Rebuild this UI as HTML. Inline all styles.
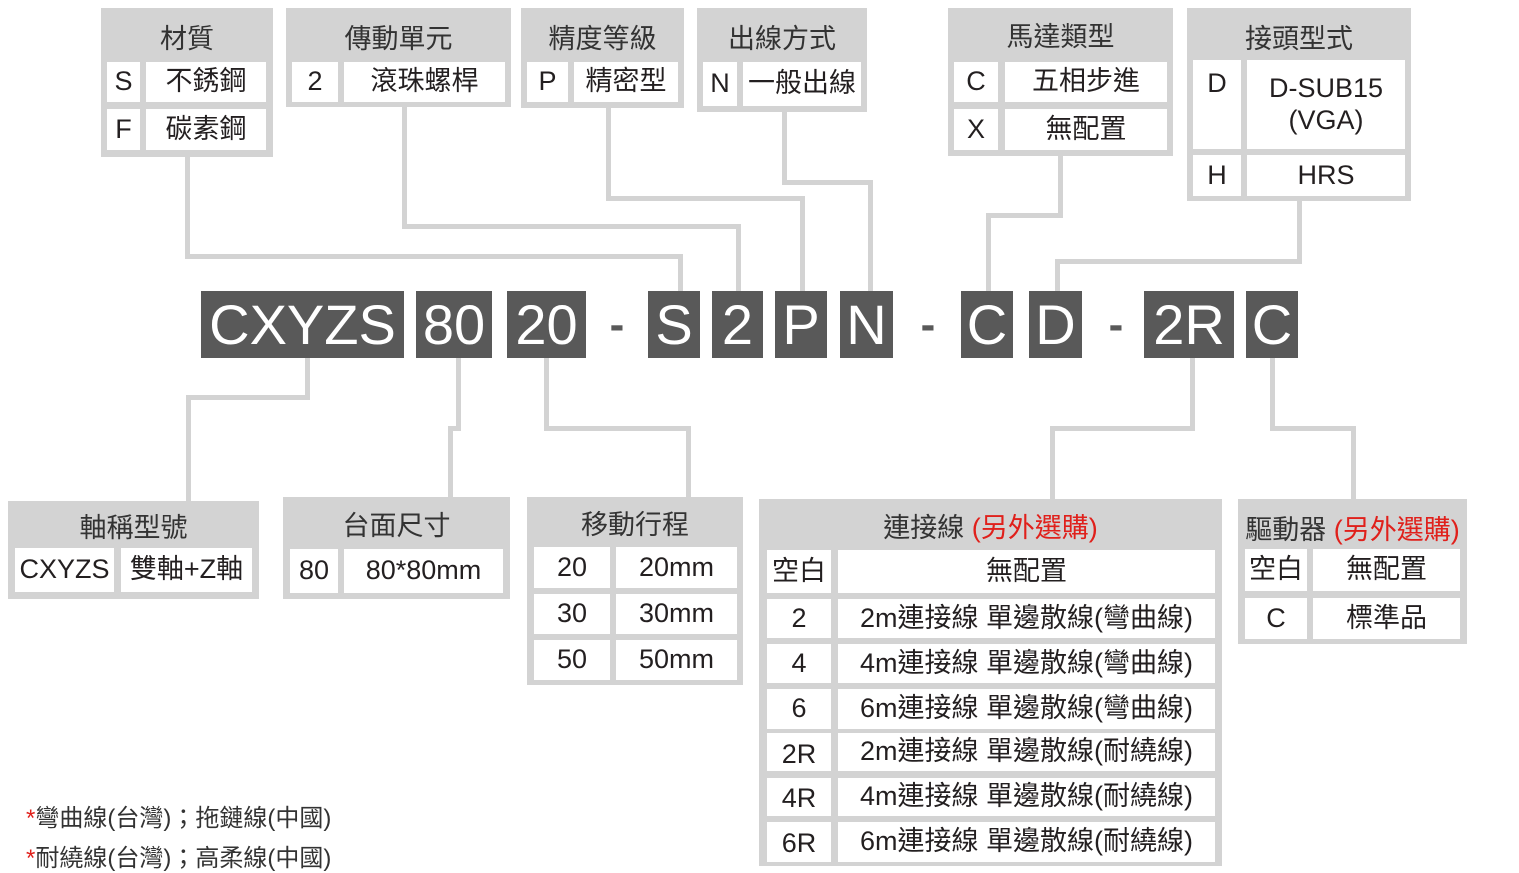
<!DOCTYPE html>
<html><head><meta charset="utf-8">
<style>
body{margin:0;width:1519px;height:869px;background:#fff;position:relative;overflow:hidden;font-family:"Liberation Sans","Noto Sans CJK TC",sans-serif;color:#231f20}
div{position:absolute;box-sizing:border-box}
.b{background:#d3d3d3}
.c{background:#fff;display:flex;align-items:center;justify-content:center;font-size:27px;white-space:nowrap;line-height:1.15;text-align:center}
.h{display:flex;align-items:center;justify-content:center;font-size:27px;color:#333;white-space:nowrap}
.k{background:#595959;color:#fff;display:flex;align-items:center;justify-content:center;font-size:56px}
.d{font-size:44px;color:#595959;font-weight:bold}
.l{background:#d3d3d3}
.r{color:#e0201b}
.n{font-size:24px;white-space:nowrap;color:#333}
</style></head><body>
<!-- connectors -->
<div class="l" style="left:185px;top:155px;width:5px;height:104px"></div>
<div class="l" style="left:185px;top:254px;width:498px;height:5px"></div>
<div class="l" style="left:678px;top:254px;width:5px;height:40px"></div>
<div class="l" style="left:402px;top:105px;width:5px;height:124px"></div>
<div class="l" style="left:402px;top:224px;width:339px;height:5px"></div>
<div class="l" style="left:736px;top:224px;width:5px;height:70px"></div>
<div class="l" style="left:606px;top:106px;width:5px;height:95px"></div>
<div class="l" style="left:606px;top:196px;width:199px;height:5px"></div>
<div class="l" style="left:800px;top:196px;width:5px;height:98px"></div>
<div class="l" style="left:782px;top:110px;width:5px;height:75px"></div>
<div class="l" style="left:782px;top:180px;width:91px;height:5px"></div>
<div class="l" style="left:868px;top:180px;width:5px;height:114px"></div>
<div class="l" style="left:1058px;top:154px;width:5px;height:64px"></div>
<div class="l" style="left:986px;top:213px;width:77px;height:5px"></div>
<div class="l" style="left:986px;top:213px;width:5px;height:81px"></div>
<div class="l" style="left:1297px;top:199px;width:5px;height:65px"></div>
<div class="l" style="left:1055px;top:259px;width:247px;height:5px"></div>
<div class="l" style="left:1055px;top:259px;width:5px;height:35px"></div>

<div class="l" style="left:305px;top:356px;width:5px;height:44px"></div>
<div class="l" style="left:186px;top:395px;width:124px;height:5px"></div>
<div class="l" style="left:186px;top:395px;width:5px;height:108px"></div>
<div class="l" style="left:456px;top:356px;width:5px;height:75px"></div>
<div class="l" style="left:448px;top:426px;width:13px;height:5px"></div>
<div class="l" style="left:448px;top:426px;width:5px;height:73px"></div>
<div class="l" style="left:544px;top:356px;width:5px;height:75px"></div>
<div class="l" style="left:544px;top:426px;width:147px;height:5px"></div>
<div class="l" style="left:686px;top:426px;width:5px;height:73px"></div>
<div class="l" style="left:1190px;top:356px;width:5px;height:75px"></div>
<div class="l" style="left:1050px;top:426px;width:145px;height:5px"></div>
<div class="l" style="left:1050px;top:426px;width:5px;height:76px"></div>
<div class="l" style="left:1270px;top:356px;width:5px;height:75px"></div>
<div class="l" style="left:1270px;top:426px;width:86px;height:5px"></div>
<div class="l" style="left:1351px;top:426px;width:5px;height:75px"></div>

<!-- top boxes -->
<div class="b" style="left:101px;top:8px;width:172px;height:149px"></div>
<div class="h" style="left:101px;top:14px;width:172px;height:44px">材質</div>
<div class="c" style="left:107px;top:62px;width:33px;height:40px">S</div>
<div class="c" style="left:146px;top:62px;width:120px;height:40px">不銹鋼</div>
<div class="c" style="left:107px;top:109px;width:33px;height:41px">F</div>
<div class="c" style="left:146px;top:109px;width:120px;height:41px">碳素鋼</div>

<div class="b" style="left:286px;top:8px;width:225px;height:99px"></div>
<div class="h" style="left:286px;top:14px;width:225px;height:44px">傳動單元</div>
<div class="c" style="left:292px;top:62px;width:46px;height:40px">2</div>
<div class="c" style="left:344px;top:62px;width:161px;height:40px">滾珠螺桿</div>

<div class="b" style="left:521px;top:8px;width:163px;height:100px"></div>
<div class="h" style="left:521px;top:14px;width:163px;height:44px">精度等級</div>
<div class="c" style="left:527px;top:62px;width:41px;height:40px">P</div>
<div class="c" style="left:574px;top:62px;width:104px;height:40px">精密型</div>

<div class="b" style="left:697px;top:8px;width:170px;height:104px"></div>
<div class="h" style="left:697px;top:14px;width:170px;height:44px">出線方式</div>
<div class="c" style="left:703px;top:62px;width:34px;height:44px">N</div>
<div class="c" style="left:743px;top:62px;width:118px;height:44px">一般出線</div>

<div class="b" style="left:948px;top:8px;width:225px;height:148px"></div>
<div class="h" style="left:948px;top:12px;width:225px;height:44px">馬達類型</div>
<div class="c" style="left:954px;top:62px;width:44px;height:40px">C</div>
<div class="c" style="left:1005px;top:62px;width:162px;height:40px">五相步進</div>
<div class="c" style="left:954px;top:109px;width:44px;height:41px">X</div>
<div class="c" style="left:1005px;top:109px;width:162px;height:41px">無配置</div>

<div class="b" style="left:1187px;top:8px;width:224px;height:193px"></div>
<div class="h" style="left:1187px;top:14px;width:224px;height:44px">接頭型式</div>
<div class="c" style="left:1193px;top:60px;width:48px;height:89px;align-items:flex-start;padding-top:8px">D</div>
<div class="c" style="left:1247px;top:60px;width:158px;height:89px">D-SUB15<br>(VGA)</div>
<div class="c" style="left:1193px;top:155px;width:48px;height:41px">H</div>
<div class="c" style="left:1247px;top:155px;width:158px;height:41px">HRS</div>

<!-- code row -->
<div class="k" style="left:201px;top:291px;width:203px;height:67px">CXYZS</div>
<div class="k" style="left:416px;top:291px;width:76px;height:67px">80</div>
<div class="k" style="left:507px;top:291px;width:79px;height:67px">20</div>
<div class="h d" style="left:600px;top:291px;width:34px;height:67px">-</div>
<div class="k" style="left:648px;top:291px;width:52px;height:67px">S</div>
<div class="k" style="left:712px;top:291px;width:51px;height:67px">2</div>
<div class="k" style="left:775px;top:291px;width:52px;height:67px">P</div>
<div class="k" style="left:840px;top:291px;width:53px;height:67px">N</div>
<div class="h d" style="left:911px;top:291px;width:34px;height:67px">-</div>
<div class="k" style="left:961px;top:291px;width:52px;height:67px">C</div>
<div class="k" style="left:1029px;top:291px;width:53px;height:67px">D</div>
<div class="h d" style="left:1099px;top:291px;width:34px;height:67px">-</div>
<div class="k" style="left:1144px;top:291px;width:90px;height:67px">2R</div>
<div class="k" style="left:1246px;top:291px;width:52px;height:67px">C</div>

<!-- bottom boxes -->
<div class="b" style="left:8px;top:501px;width:251px;height:98px"></div>
<div class="h" style="left:8px;top:503px;width:251px;height:44px">軸稱型號</div>
<div class="c" style="left:15px;top:548px;width:99px;height:44px">CXYZS</div>
<div class="c" style="left:121px;top:548px;width:131px;height:44px">雙軸+Z軸</div>

<div class="b" style="left:283px;top:497px;width:227px;height:102px"></div>
<div class="h" style="left:283px;top:501px;width:227px;height:44px">台面尺寸</div>
<div class="c" style="left:290px;top:549px;width:48px;height:44px">80</div>
<div class="c" style="left:344px;top:549px;width:159px;height:44px">80*80mm</div>

<div class="b" style="left:527px;top:497px;width:216px;height:188px"></div>
<div class="h" style="left:527px;top:500px;width:216px;height:44px">移動行程</div>
<div class="c" style="left:534px;top:547px;width:76px;height:41px">20</div>
<div class="c" style="left:616px;top:547px;width:121px;height:41px">20mm</div>
<div class="c" style="left:534px;top:594px;width:76px;height:40px">30</div>
<div class="c" style="left:616px;top:594px;width:121px;height:40px">30mm</div>
<div class="c" style="left:534px;top:640px;width:76px;height:40px">50</div>
<div class="c" style="left:616px;top:640px;width:121px;height:40px">50mm</div>

<div class="b" style="left:759px;top:499px;width:463px;height:367px"></div>
<div class="h" style="left:759px;top:503px;width:463px;height:44px">連接線&nbsp;<span class="r">(另外選購)</span></div>
<div class="c" style="left:767px;top:550px;width:64px;height:43px">空白</div>
<div class="c" style="left:838px;top:550px;width:377px;height:43px">無配置</div>
<div class="c" style="left:767px;top:599px;width:64px;height:39px">2</div>
<div class="c" style="left:838px;top:599px;width:377px;height:39px">2m連接線 單邊散線(彎曲線)</div>
<div class="c" style="left:767px;top:644px;width:64px;height:39px">4</div>
<div class="c" style="left:838px;top:644px;width:377px;height:39px">4m連接線 單邊散線(彎曲線)</div>
<div class="c" style="left:767px;top:689px;width:64px;height:40px">6</div>
<div class="c" style="left:838px;top:689px;width:377px;height:40px">6m連接線 單邊散線(彎曲線)</div>
<div class="c" style="left:767px;top:733px;width:64px;height:38px;padding-top:6px">2R</div>
<div class="c" style="left:838px;top:733px;width:377px;height:38px">2m連接線 單邊散線(耐繞線)</div>
<div class="c" style="left:767px;top:778px;width:64px;height:38px;padding-top:4px">4R</div>
<div class="c" style="left:838px;top:778px;width:377px;height:38px">4m連接線 單邊散線(耐繞線)</div>
<div class="c" style="left:767px;top:822px;width:64px;height:40px;padding-top:4px">6R</div>
<div class="c" style="left:838px;top:822px;width:377px;height:40px">6m連接線 單邊散線(耐繞線)</div>

<div class="b" style="left:1238px;top:499px;width:229px;height:145px"></div>
<div class="h" style="left:1238px;top:505px;width:229px;height:44px">驅動器&nbsp;<span class="r">(另外選購)</span></div>
<div class="c" style="left:1245px;top:549px;width:62px;height:42px">空白</div>
<div class="c" style="left:1313px;top:549px;width:147px;height:42px">無配置</div>
<div class="c" style="left:1245px;top:598px;width:62px;height:41px">C</div>
<div class="c" style="left:1313px;top:598px;width:147px;height:41px">標準品</div>

<div class="n" style="left:26px;top:798px"><span class="r">*</span>彎曲線(台灣)；拖鏈線(中國)</div>
<div class="n" style="left:26px;top:838px"><span class="r">*</span>耐繞線(台灣)；高柔線(中國)</div>
</body></html>
